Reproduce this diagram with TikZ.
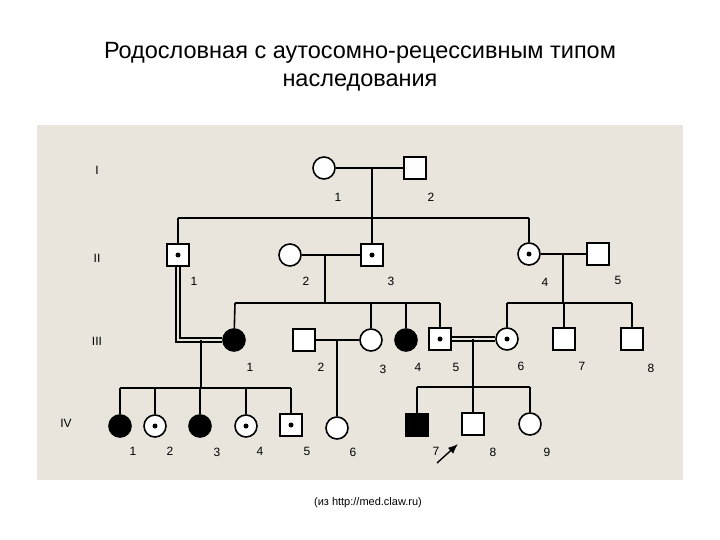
\documentclass[tikz,border=0pt]{standalone}
\usepackage{fontspec}
\setmainfont{Liberation Sans}
\usetikzlibrary{arrows.meta}
\definecolor{bg}{RGB}{233,229,221}
\begin{document}
\begin{tikzpicture}[x=1pt,y=-1pt,
  line width=1.6pt,
  fem/.style={circle,draw,minimum size=22pt,inner sep=0pt,fill=white},
  mal/.style={rectangle,draw,minimum size=22pt,inner sep=0pt,fill=white},
  aff/.style={fill=black},
  car/.style={path picture={\fill[black] (path picture bounding box.center) circle (2.5pt);}},
  num/.style={font=\fontsize{12}{14}\selectfont},
  gen/.style={font=\fontsize{12}{14}\selectfont},
  ln/.style={line width=1.6pt},
  dbl/.style={double=bg,double distance=2.5pt,line width=1.4pt}]
\useasboundingbox (0,0) rectangle (720,540);
\fill[white] (0,0) rectangle (720,540);
\fill[bg] (37,125) rectangle (683,480);
\node[font=\fontsize{23.5}{28}\selectfont] (t1) at (360,53) {Родословная с аутосомно-рецессивным типом};
\node[font=\fontsize{23.5}{28}\selectfont] (t2) at (360,83) {наследования};
\node[font=\fontsize{11}{13}\selectfont] (cap) at (368,503) {(из http://med.claw.ru)};
% generation labels
\node[gen] (g1) at (97,170) {I};
\node[gen] (g2) at (97,258) {II};
\node[gen] (g3) at (97,341) {III};
\node[gen] (g4) at (66,423) {IV};
% connector points
\coordinate (m1) at (372,169);
\coordinate (s2l) at (178,218);
\coordinate (s2r) at (529,218);
\coordinate (m23) at (325,255);
\coordinate (s3a) at (325,303);
\coordinate (s3l) at (235,303);
\coordinate (s3r) at (440,303);
\coordinate (m45) at (563,254);
\coordinate (s3b) at (563,303);
\coordinate (s3bl) at (507,303);
\coordinate (s3br) at (632,303);
\coordinate (c1) at (178,340);
\coordinate (m11) at (201,340);
\coordinate (s4a) at (201,388);
\coordinate (s4l) at (120,388);
\coordinate (s4r) at (291,388);
\coordinate (m23b) at (337,340);
\coordinate (m56) at (473,339);
\coordinate (s4b) at (473,387);
\coordinate (s4bl) at (417,387);
\coordinate (s4br) at (530,387);
% nodes
\node[fem] (I1) at (324,168) {};
\node[mal] (I2) at (415,168) {};
\node[mal,car] (II1) at (178,255) {};
\node[fem] (II2) at (290,255) {};
\node[mal,car] (II3) at (372,255) {};
\node[fem,car] (II4) at (529,254) {};
\node[mal] (II5) at (598,254) {};
\node[fem,aff] (III1) at (234,340) {};
\node[mal] (III2) at (304,340) {};
\node[fem] (III3) at (371,340) {};
\node[fem,aff] (III4) at (406,340) {};
\node[mal,car] (III5) at (440,339) {};
\node[fem,car] (III6) at (507,339) {};
\node[mal] (III7) at (564,339) {};
\node[mal] (III8) at (632,339) {};
\node[fem,aff] (IV1) at (120,426) {};
\node[fem,car] (IV2) at (155,426) {};
\node[fem,aff] (IV3) at (200,426) {};
\node[fem,car] (IV4) at (246,426) {};
\node[mal,car] (IV5) at (291,425) {};
\node[fem] (IV6) at (337,428) {};
\node[mal,aff] (IV7) at (417,425) {};
\node[mal] (IV8) at (473,424) {};
\node[fem] (IV9) at (530,424) {};
% lines
\draw[ln] (I1) -- (I2);
\draw[ln] (m1) -- (II3);
\draw[line width=1.3pt] (s2l) -- (s2r);
\draw[line width=1.3pt] (s2l) -- (II1);
\draw[line width=1.3pt] (s2r) -- (II4);
\draw[ln] (II2) -- (II3);
\draw[ln] (m23) -- (s3a);
\draw[ln] (s3l) -- (s3r);
\draw[ln] (s3l) -- (III1);
\draw[ln] (III3 |- s3l) -- (III3);
\draw[ln] (III4 |- s3l) -- (III4);
\draw[ln] (s3r) -- (III5);
\draw[ln] (II4) -- (II5);
\draw[ln] (m45) -- (s3b);
\draw[line width=1.3pt] (s3bl) -- (s3br);
\draw[line width=1.3pt] (s3bl) -- (III6);
\draw[line width=1.3pt] (III7 |- s3b) -- (III7);
\draw[line width=1.3pt] (s3br) -- (III8);
\draw[dbl] (II1.south) -- (c1) -- (III1.west);
\draw[ln] (m11) -- (s4a);
\draw[ln] (s4l) -- (s4r);
\draw[ln] (s4l) -- (IV1);
\draw[ln] (IV2 |- s4l) -- (IV2);
\draw[ln] (IV3 |- s4l) -- (IV3);
\draw[ln] (IV4 |- s4l) -- (IV4);
\draw[ln] (s4r) -- (IV5);
\draw[line width=1.3pt] (III2) -- (III3);
\draw[ln] (m23b) -- (IV6);
\draw[dbl] (III5.east) -- (III6.west);
\draw[ln] (m56) -- (s4b);
\draw[line width=1.3pt] (s4bl) -- (s4br);
\draw[line width=1.3pt] (s4bl) -- (IV7);
\draw[ln] (s4b) -- (IV8);
\draw[line width=1.3pt] (s4br) -- (IV9);
% arrow
\coordinate (pa) at (437,463);
\coordinate (pb) at (458,444);
\draw[line width=1.4pt,-{Latex[length=10pt,width=8pt]}] (pa) -- (pb);
% numbers
\foreach \k/\t/\x/\y in {a1/1/338/197,a2/2/431/197,
 b1/1/194/281,b2/2/306/281,b3/3/391/281,b4/4/545/282,b5/5/618/280,
 c1/1/250/367,c2/2/321/367,c3/3/383/369,c4/4/418/367,c5/5/456/367,c6/6/521/366,c7/7/582/366,c8/8/651/368,
 d1/1/133/451,d2/2/170/451,d3/3/217/452,d4/4/260/451,d5/5/307/451,d6/6/353/452,d7/7/436/451,d8/8/493/452,d9/9/547/452}
 {\node[num] (n\k) at (\x,\y) {\t};}
\end{tikzpicture}
\end{document}
